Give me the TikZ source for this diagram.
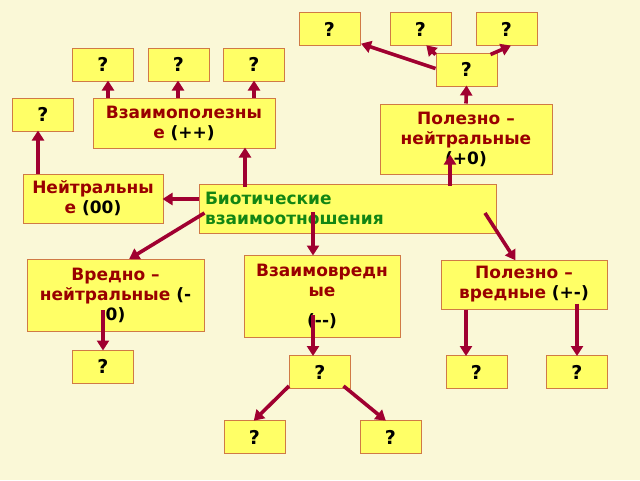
\documentclass[tikz,border=0pt]{standalone}
\usepackage{fontspec}
\setmainfont{DejaVu Sans}
\usetikzlibrary{arrows.meta}
\definecolor{bgc}{HTML}{FAF8D7}
\definecolor{boxfill}{HTML}{FFFF66}
\definecolor{boxline}{HTML}{D07A45}
\definecolor{tred}{HTML}{990000}
\definecolor{tgreen}{HTML}{138513}
\definecolor{arrc}{HTML}{A00030}
\tikzset{
  box/.style={draw=boxline, fill=boxfill, line width=1pt, inner sep=0pt,
    font=\fontsize{17}{20}\selectfont\bfseries, align=center, text=black},
  qbox/.style={box, minimum width=61pt, minimum height=33pt,
    font=\fontsize{19}{22}\selectfont\bfseries},
  arr/.style={draw=arrc, line width=3.6pt, -{Triangle[width=12pt,length=10pt]}, shorten >=-1pt}
}
\begin{document}
\begin{tikzpicture}[x=1pt,y=-1pt]
\useasboundingbox[fill=bgc] (0,0) rectangle (640,480);
% question boxes
\node[qbox] (q1) at (329.5,29) {?};
\node[qbox] (q2) at (420.5,29) {?};
\node[qbox] (q3) at (506.5,29) {?};
\node[qbox] (q4) at (466.5,69.5) {?};
\node[qbox] (q5) at (103,64.5) {?};
\node[qbox] (q6) at (178.5,64.5) {?};
\node[qbox] (q7) at (254,64.5) {?};
\node[qbox] (q8) at (43,114.5) {?};
\node[qbox] (q9) at (103,366.5) {?};
\node[qbox] (q10) at (320,372) {?};
\node[qbox] (q11) at (476.5,372) {?};
\node[qbox] (q12) at (577,372) {?};
\node[qbox] (q13) at (254.5,437) {?};
\node[qbox] (q14) at (390.5,437) {?};
% main boxes
\node[box, minimum width=182pt, minimum height=50pt] (vzp) at (184,123)
  {\textcolor{tred}{Взаимополезны}\\\textcolor{tred}{е} (++)};
\node[box, minimum width=172pt, minimum height=70pt] (pn) at (466,139)
  {\textcolor{tred}{Полезно –}\\\textcolor{tred}{нейтральные}\\(+0)};
\node[box, minimum width=140pt, minimum height=49pt] (neu) at (93,198.5)
  {\textcolor{tred}{Нейтральны}\\\textcolor{tred}{е} (00)};
\node[box, minimum width=297pt, minimum height=49pt, align=left, text width=285pt,
  inner xsep=6pt, text=tgreen] (bio) at (347.5,208.5)
  {Биотические\\взаимоотношения};
\node[box, minimum width=177pt, minimum height=72pt] (vn) at (115.5,295)
  {\textcolor{tred}{Вредно –}\\\textcolor{tred}{нейтральные} (-\\0)};
\node[box, minimum width=156pt, minimum height=82pt] (vv) at (322,296)
  {\textcolor{tred}{Взаимовредн}\\\textcolor{tred}{ые}\\[10pt](-{}-)};
\node[box, minimum width=166pt, minimum height=49pt] (pv) at (524,284.5)
  {\textcolor{tred}{Полезно –}\\\textcolor{tred}{вредные} (+-)};
% arrows
\draw[arr] ([xshift=-76pt]vzp.north) -- ([xshift=5pt]q5.south);
\draw[arr] ([xshift=-6pt]vzp.north) -- ([xshift=-0.5pt]q6.south);
\draw[arr] ([xshift=70pt]vzp.north) -- (q7.south);
\draw[arr] ([xshift=-55pt]neu.north) -- ([xshift=-5pt]q8.south);
\draw[arr] ([yshift=9.5pt]bio.west) -- ([yshift=9.5pt]bio.west -| neu.east);
\draw[arr] ([xshift=-102.5pt,yshift=-3pt]bio.north) -- ([xshift=61pt]vzp.south);
\draw[arr] ([xshift=102.5pt,yshift=-2pt]bio.north) -- ([xshift=-16pt,yshift=19pt]pn.south);
\draw[arr] (pn.north) -- (q4.south);
\draw[arr] ([yshift=1pt]q4.west) -- ([xshift=1.5pt,yshift=2pt]q1.south east);
\draw[arr] ([yshift=-2pt]q4.north west) -- ([xshift=6.5pt]q2.south);
\draw[arr] ([xshift=-7pt,yshift=-2pt]q4.north east) -- ([xshift=3.5pt]q3.south);
\draw[arr] ([xshift=6pt,yshift=-4.5pt]bio.west) -- ([xshift=14.5pt]vn.north);
\draw[arr] ([xshift=-34.5pt,yshift=-3.5pt]bio.center) -- ([xshift=-9pt]vv.north);
\draw[arr] ([xshift=137.5pt,yshift=-4.5pt]bio.center) -- ([xshift=-9pt]pv.north);
\draw[arr] ([xshift=-12.5pt,yshift=-15pt]vn.center) -- (q9.north);
\draw[arr] ([xshift=-9pt,yshift=-19pt]vv.center) -- ([xshift=-7pt]q10.north);
\draw[arr] ([yshift=3pt]q10.south west) -- (q13.north);
\draw[arr] ([xshift=-7.5pt,yshift=3pt]q10.south east) -- ([xshift=-5.5pt]q14.north);
\draw[arr] ([xshift=-58pt]pv.south) -- ([xshift=-10.5pt]q11.north);
\draw[arr] ([xshift=53pt,yshift=6pt]pv.south) -- (q12.north);
\end{tikzpicture}
\end{document}
